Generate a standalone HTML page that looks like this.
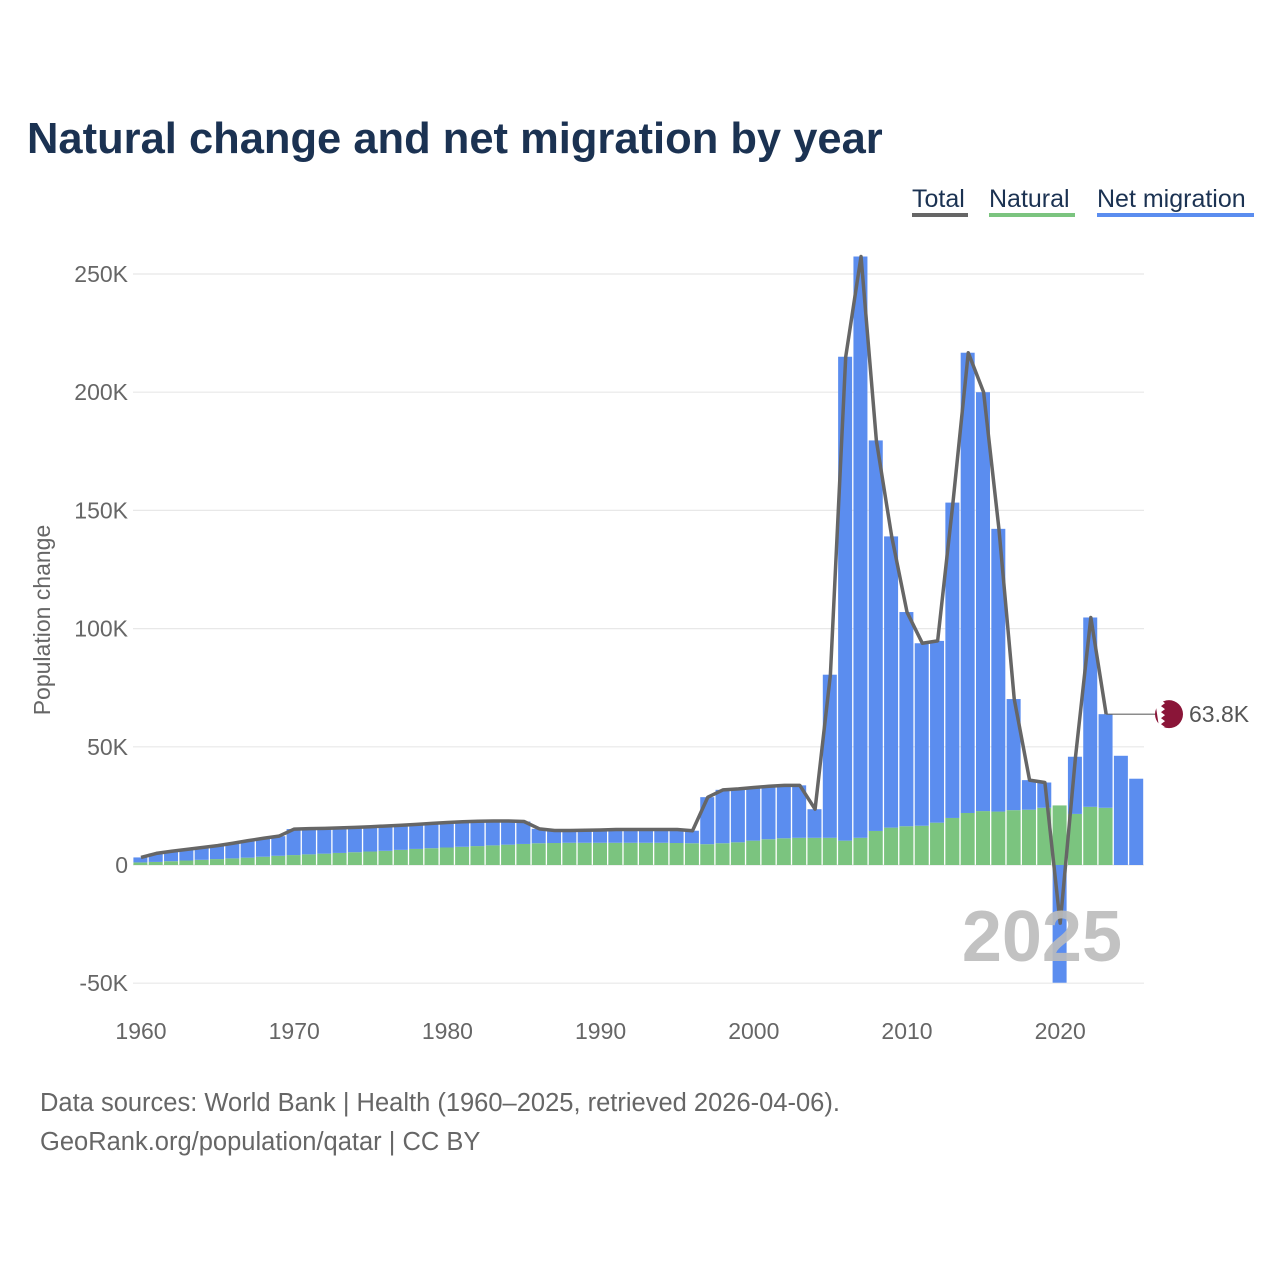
<!DOCTYPE html>
<html><head><meta charset="utf-8">
<style>
html,body{margin:0;padding:0;background:#fff;}
body{width:1280px;height:1280px;position:relative;font-family:"Liberation Sans",sans-serif;overflow:hidden;}
</style></head>
<body>
<svg id="chart" width="1280" height="1280" xmlns="http://www.w3.org/2000/svg" style="position:absolute;left:0;top:0">
<text x="27" y="153" font-family="Liberation Sans, sans-serif" font-weight="bold" font-size="43.5" fill="#1b3252">Natural change and net migration by year</text>
<g font-family="Liberation Sans, sans-serif" font-size="25" fill="#1b3252">
  <g><text x="912" y="207">Total</text><rect x="912" y="213" width="56" height="4" fill="#666"/></g>
  <g><text x="989" y="207">Natural</text><rect x="989" y="213" width="86" height="4" fill="#7bc47f"/></g>
  <g><text x="1097" y="207">Net migration</text><rect x="1097" y="213" width="157" height="4" fill="#5b8def"/></g>
</g>
<text transform="translate(50,620) rotate(-90)" text-anchor="middle" font-family="Liberation Sans, sans-serif" font-size="23" fill="#666">Population change</text>
<g id="grid"></g><g id="bars"></g><g id="line"></g><g id="ticks"></g>
<text x="1122" y="961" text-anchor="end" font-family="Liberation Sans, sans-serif" font-weight="bold" font-size="72" fill="#bbb" fill-opacity="0.9">2025</text>
<g id="annot"></g>
<text x="40" y="1111" font-family="Liberation Sans, sans-serif" font-size="25.5" fill="#666">Data sources: World Bank | Health (1960–2025, retrieved 2026-04-06).</text>
<text x="40" y="1150" font-family="Liberation Sans, sans-serif" font-size="25.5" fill="#666">GeoRank.org/population/qatar | CC BY</text>
</svg>
<script>
const years = [];
for (let y = 1960; y <= 2025; y++) years.push(y);
const natural = [1.1,1.3,1.6,1.9,2.2,2.5,2.8,3.1,3.5,3.9,4.2,4.5,4.8,5.1,5.4,5.7,6.0,6.4,6.8,7.1,7.4,7.7,8.0,8.3,8.6,8.9,9.2,9.3,9.4,9.4,9.4,9.4,9.4,9.4,9.4,9.3,9.2,8.8,9.2,9.6,10.3,10.9,11.3,11.5,11.5,11.5,10.3,11.5,14.4,15.8,16.4,16.6,17.9,19.9,22.0,22.8,22.6,23.2,23.4,24.2,25.2,21.6,24.6,24.2,null,null];
const migration = [2.1,3.6,4.2,4.7,5.2,5.7,6.4,7.2,7.8,8.3,11.0,10.9,10.7,10.6,10.5,10.5,10.5,10.4,10.4,10.5,10.6,10.6,10.5,10.3,10.0,9.5,6.1,5.3,5.2,5.3,5.4,5.6,5.6,5.6,5.6,5.7,5.3,19.9,22.6,22.6,22.5,22.4,22.4,22.2,12.1,69.0,204.7,245.9,165.2,123.2,90.6,77.2,76.9,133.4,194.7,177.2,119.6,47.0,12.5,10.7,-49.8,24.2,80.1,39.6,46.2,36.5];
const yTicks = [-50,0,50,100,150,200,250];
const yTickLabels = ["-50K","0","50K","100K","150K","200K","250K"];
const xTicks = [1960,1970,1980,1990,2000,2010,2020];

const NS = "http://www.w3.org/2000/svg";
const X0 = 133, XR = 1144, STEP = 15.32;
const xs = yr => 141 + (yr - 1960) * STEP;
const ys = v => 865 - v * 2.364;
function mk(tag, attrs, parent){const e=document.createElementNS(NS,tag);for(const k in attrs)e.setAttribute(k,attrs[k]);parent.appendChild(e);return e;}

const grid = document.getElementById('grid'), ticks = document.getElementById('ticks');
yTicks.forEach((t,i)=>{
  const l = mk('line',{x1:X0,x2:XR,y1:ys(t),y2:ys(t),stroke:'#e8e8e8','stroke-width':1.2},grid);
  
  
  const tx = mk('text',{x:128,y:ys(t)+8,'text-anchor':'end','font-size':23,fill:'#666','font-family':'Liberation Sans, sans-serif'},ticks);
  tx.textContent = yTickLabels[i];
  
  
});
xTicks.forEach(t=>{
  const tx = mk('text',{x:xs(t),y:1039,'text-anchor':'middle','font-size':23,fill:'#666','font-family':'Liberation Sans, sans-serif'},ticks);
  tx.textContent = t;
  
  
});

const bars = document.getElementById('bars');
years.forEach((yr,i)=>{
  const left = xs(yr) - 7.6, w = 14;
  const n = natural[i] == null ? 0 : natural[i];
  const m = migration[i];
  if (n > 0) {
    const r = mk('rect',{x:left,y:ys(n),width:w,height:ys(0)-ys(n),fill:'#7bc47f'},bars);
    
    
  }
  let y0, y1;
  if (m >= 0) { y0 = ys(n + m); y1 = ys(n); } else { y0 = ys(0); y1 = ys(m); }
  const r2 = mk('rect',{x:left,y:y0,width:w,height:y1-y0,fill:'#5b8def'},bars);
  
  
});

const pts = [];
years.forEach((yr,i)=>{ if (natural[i] != null) pts.push([xs(yr), ys(natural[i]+migration[i])]); });
const line = mk('polyline',{points:pts.map(p=>p.join(',')).join(' '),fill:'none',stroke:'#666','stroke-width':3.5,'stroke-linejoin':'round'},document.getElementById('line'));



const last = pts[pts.length-1];
let lastIdx = 0;
natural.forEach((v,i)=>{ if (v != null) lastIdx = i; });
const lastVal = natural[lastIdx] + migration[lastIdx];
const an = document.getElementById('annot');
const al = mk('line',{x1:last[0],x2:1158,y1:last[1],y2:last[1],stroke:'#666','stroke-width':1.2},an);


const fl = mk('circle',{cx:1169,cy:last[1],r:14,fill:'#8a1538'},an);


const fw = mk('path',{d:`M1155,${last[1]-14} h6 l4,3 l-4,3 l4,3 l-4,3 l4,3 l-4,3 l4,3 l-4,3 l4,3 h-6 z`,fill:'#fff'},an);


const at = mk('text',{x:1189,y:last[1]+8,'font-size':23,fill:'#555','font-family':'Liberation Sans, sans-serif'},an);
at.textContent = lastVal.toFixed(1)+'K';


</script>
</body></html>
